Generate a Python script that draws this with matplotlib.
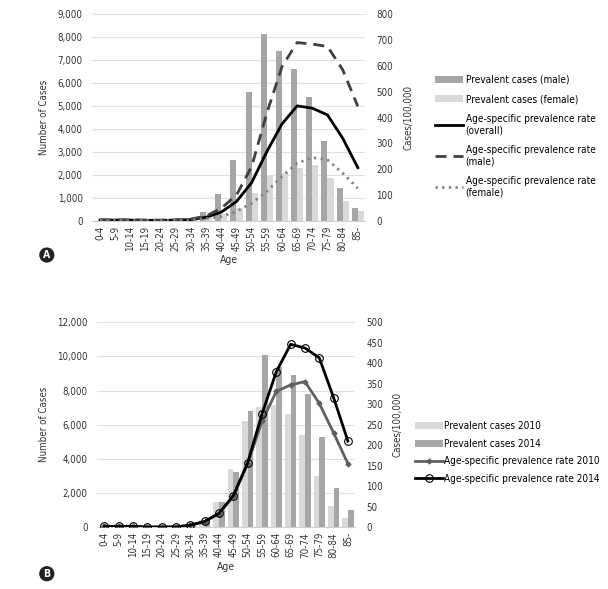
import numpy as np
import matplotlib.pyplot as plt
from matplotlib.ticker import FuncFormatter

plt.rcParams['font.family'] = ['DejaVu Sans']
plt.rcParams['font.stretch'] = 'condensed'

ages = ['0-4', '5-9', '10-14', '15-19', '20-24', '25-29', '30-34', '35-39', '40-44',
        '45-49', '50-54', '55-59', '60-64', '65-69', '70-74', '75-79', '80-84', '85-']

# panel A
cases_male = [5, 5, 5, 5, 10, 20, 80, 380, 1180, 2650, 5600, 8150, 7380, 6620, 5380, 3480, 1420, 540]
cases_female = [3, 3, 3, 3, 5, 10, 30, 150, 300, 580, 1200, 1950, 2100, 2300, 2420, 1850, 870, 450]
rate_overall = [3, 3, 3, 2, 2, 3, 5, 14, 34, 75, 148, 268, 375, 445, 436, 410, 320, 206]
rate_male = [4, 4, 4, 3, 3, 4, 7, 19, 49, 100, 210, 417, 597, 690, 684, 675, 585, 443]
rate_female = [2, 2, 2, 1, 1, 2, 4, 9, 17, 36, 68, 114, 172, 223, 245, 236, 185, 126]

# panel B
cases_2010 = [5, 5, 5, 5, 5, 20, 100, 400, 1470, 3400, 6200, 7050, 7150, 6600, 5400, 3000, 1250, 520]
cases_2014 = [5, 5, 5, 5, 5, 20, 120, 550, 1500, 3250, 6800, 10100, 9350, 8900, 7800, 5300, 2280, 1000]
rate_2010 = [2, 2, 2, 1, 1, 1, 5, 13, 33, 75, 155, 258, 331, 347, 355, 302, 230, 155]
rate_2014 = [2, 2, 2, 0, 0, 0, 5, 14, 34, 77, 157, 276, 379, 446, 437, 413, 316, 210]

fig = plt.figure(figsize=(6.08, 5.89), dpi=100)
x = np.arange(len(ages))
fmt = FuncFormatter(lambda v, p: f'{int(v):,}')
w = 0.4
fs = 7


def style(ax, ax2):
    for a in (ax, ax2):
        for s in a.spines.values():
            s.set_visible(False)
        a.tick_params(length=0, labelsize=fs, colors='#333333')
    ax.spines['bottom'].set_visible(True)
    ax.spines['bottom'].set_color('#d0d0d0')
    ax.yaxis.grid(True, color='#e0e0e0', lw=0.8)
    ax.set_axisbelow(True)
    ax.set_xticks(x)
    ax.set_xticklabels(ages, rotation=90)
    ax.set_xlim(-0.5, len(ages) - 0.5)
    ax.yaxis.set_major_formatter(fmt)
    ax.tick_params(axis='y', pad=7)
    ax2.tick_params(axis='y', pad=8)
    ax.set_xlabel('Age', fontsize=fs + 0.5, color='#333333', labelpad=3)
    ax.set_ylabel('Number of Cases', fontsize=fs, color='#333333', labelpad=6)
    ax2.set_ylabel('Cases/100,000', fontsize=fs, color='#333333', labelpad=7)


# ---- A ----
ax = fig.add_axes([0.152, 0.625, 0.449, 0.351])
ax2 = ax.twinx()
b1 = ax.bar(x - w / 2, cases_male, w, color='#a6a6a6', label='Prevalent cases (male)')
b2 = ax.bar(x + w / 2, cases_female, w, color='#d9d9d9', label='Prevalent cases (female)')
l1, = ax2.plot(x, rate_overall, color='black', lw=2, label='Age-specific prevalence rate\n(overall)')
l2, = ax2.plot(x, rate_male, color='#404040', lw=2, ls=(0, (4, 2.5)), label='Age-specific prevalence rate\n(male)')
l3, = ax2.plot(x, rate_female, color='#808080', lw=2, ls=(0, (0.8, 1.6)), label='Age-specific prevalence rate\n(female)')
ax.set_ylim(0, 9000)
ax.set_yticks(np.arange(0, 9001, 1000))
ax2.set_ylim(0, 800)
ax2.set_yticks(np.arange(0, 801, 100))
style(ax, ax2)
fig.legend(handles=[b1, b2, l1, l2, l3], loc='upper left', bbox_to_anchor=(0.7, 0.888),
           frameon=False, fontsize=fs + 0.2, handlelength=2.8, handletextpad=0.3, labelspacing=0.95)
fig.text(0.077, 0.567, 'A', ha='center', va='center', color='white', fontsize=7.5, fontweight='bold',
         bbox=dict(boxstyle='circle,pad=0.25', fc='#222222', ec='none'))

# ---- B ----
bx = fig.add_axes([0.16, 0.105, 0.424, 0.348])
bx2 = bx.twinx()
c1 = bx.bar(x - w / 2, cases_2010, w, color='#d9d9d9', label='Prevalent cases 2010')
c2 = bx.bar(x + w / 2, cases_2014, w, color='#a6a6a6', label='Prevalent cases 2014')
m1, = bx2.plot(x, rate_2010, color='#606060', lw=2, marker='D', ms=2.5, label='Age-specific prevalence rate 2010')
m2, = bx2.plot(x, rate_2014, color='black', lw=2, marker='o', ms=5.5, mfc='none', mec='black', mew=0.8,
               label='Age-specific prevalence rate 2014')
bx.set_ylim(0, 12000)
bx.set_yticks(np.arange(0, 12001, 2000))
bx2.set_ylim(0, 500)
bx2.set_yticks(np.arange(0, 501, 50))
style(bx, bx2)
fig.legend(handles=[c1, c2, m1, m2], loc='upper left', bbox_to_anchor=(0.667, 0.3),
           frameon=False, fontsize=fs + 0.2, handlelength=2.8, handletextpad=0.1, labelspacing=0.75)
fig.text(0.077, 0.026, 'B', ha='center', va='center', color='white', fontsize=7.5, fontweight='bold',
         bbox=dict(boxstyle='circle,pad=0.25', fc='#222222', ec='none'))

fig.savefig('out.png', dpi=100)
